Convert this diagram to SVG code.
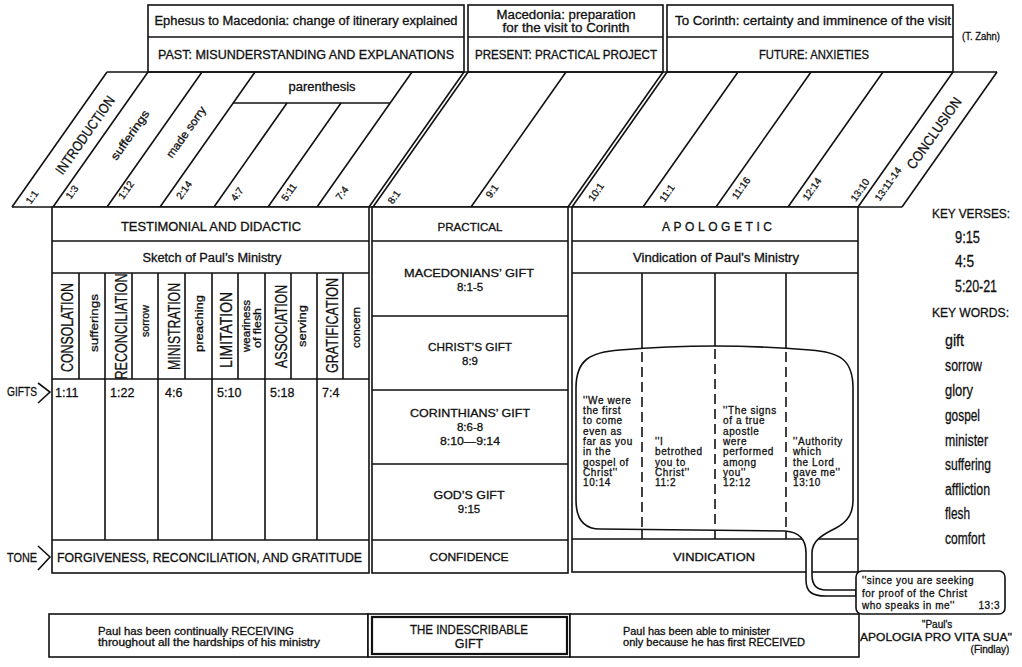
<svg xmlns="http://www.w3.org/2000/svg" width="1022" height="667" viewBox="0 0 1022 667">
<style>
.ln{stroke:#111;stroke-width:1.6;fill:none}
.bx{fill:#fff;stroke:#111;stroke-width:1.6}
.ds{stroke:#111;stroke-width:1.6;stroke-dasharray:10 5;fill:none}
text{font-family:"Liberation Sans",Arial,sans-serif;fill:#111;stroke:#111;stroke-width:0.3}
.c{text-anchor:middle}
.n{font-size:16px}
.k{font-size:13px}
.q{font-size:10px;letter-spacing:0.6px}
.v{font-size:10px;text-anchor:middle}
</style>
<rect width="1022" height="667" fill="#fff"/>

<g id="top-past">
<rect class="bx" x="148" y="5" width="316" height="67"/>
<line class="ln" x1="148" y1="37" x2="464" y2="37"/>
<text class="c" x="306" y="25" font-size="12" textLength="303" lengthAdjust="spacingAndGlyphs">Ephesus to Macedonia: change of itinerary explained</text>
<text class="c" x="306" y="59" font-size="12" textLength="296" lengthAdjust="spacingAndGlyphs">PAST: MISUNDERSTANDING AND EXPLANATIONS</text>
</g>
<g id="top-present">
<rect class="bx" x="468" y="5" width="195" height="67"/>
<line class="ln" x1="468" y1="37" x2="663" y2="37"/>
<text class="c" x="566" y="19" font-size="12" textLength="139" lengthAdjust="spacingAndGlyphs">Macedonia: preparation</text>
<text class="c" x="566" y="32" font-size="12" textLength="127" lengthAdjust="spacingAndGlyphs">for the visit to Corinth</text>
<text class="c" x="566" y="59" font-size="12" textLength="182" lengthAdjust="spacingAndGlyphs">PRESENT: PRACTICAL PROJECT</text>
</g>
<g id="top-future">
<rect class="bx" x="667" y="5" width="286" height="67"/>
<line class="ln" x1="667" y1="37" x2="953" y2="37"/>
<text class="c" x="813" y="25" font-size="12" textLength="276" lengthAdjust="spacingAndGlyphs">To Corinth: certainty and imminence of the visit</text>
<text class="c" x="814" y="59" font-size="12" textLength="110" lengthAdjust="spacingAndGlyphs">FUTURE: ANXIETIES</text>
</g>
<text id="zahn" x="962" y="40" font-size="10" textLength="38" lengthAdjust="spacingAndGlyphs">(T. Zahn)</text>

<g id="band">
<line class="ln" x1="107" y1="72" x2="997" y2="72"/>
<line class="ln" x1="12" y1="207" x2="902" y2="207"/>
<line class="ln" x1="12" y1="207" x2="107" y2="72"/>
<line class="ln" x1="53" y1="207" x2="148" y2="72"/>
<line class="ln" x1="107" y1="207" x2="202" y2="72"/>
<line class="ln" x1="160" y1="207" x2="255" y2="72"/>
<line class="ln" x1="214" y1="207" x2="287" y2="103"/>
<line class="ln" x1="268" y1="207" x2="341" y2="103"/>
<line class="ln" x1="317" y1="207" x2="412" y2="72"/>
<line class="ln" x1="233" y1="103" x2="390" y2="103"/>
<line class="ln" x1="369" y1="207" x2="464" y2="72"/>
<line class="ln" x1="373" y1="207" x2="468" y2="72"/>
<line class="ln" x1="471" y1="207" x2="566" y2="72"/>
<line class="ln" x1="568" y1="207" x2="663" y2="72"/>
<line class="ln" x1="572" y1="207" x2="667" y2="72"/>
<line class="ln" x1="643" y1="207" x2="738" y2="72"/>
<line class="ln" x1="716" y1="207" x2="811" y2="72"/>
<line class="ln" x1="788" y1="207" x2="883" y2="72"/>
<line class="ln" x1="858" y1="207" x2="953" y2="72"/>
<line class="ln" x1="902" y1="207" x2="997" y2="72"/>
<text class="c" x="322" y="91" font-size="12" textLength="67" lengthAdjust="spacingAndGlyphs">parenthesis</text>
<text class="c" font-size="14" dy="0.35em" textLength="92" lengthAdjust="spacingAndGlyphs" transform="translate(85,135) rotate(-54.9)">INTRODUCTION</text>
<text class="c" font-size="11.5" dy="0.35em" textLength="58" lengthAdjust="spacingAndGlyphs" transform="translate(130,135) rotate(-54.9)">sufferings</text>
<text class="c" font-size="11.5" dy="0.35em" textLength="60" lengthAdjust="spacingAndGlyphs" transform="translate(186,132) rotate(-54.9)">made sorry</text>
<text class="c" font-size="14" dy="0.35em" textLength="84" lengthAdjust="spacingAndGlyphs" transform="translate(934,133) rotate(-54.9)">CONCLUSION</text>
<text class="v" dy="0.35em" transform="translate(32,197) rotate(-54.9)">1:1</text>
<text class="v" dy="0.35em" transform="translate(72,192) rotate(-54.9)">1:3</text>
<text class="v" dy="0.35em" transform="translate(126,190) rotate(-54.9)">1:12</text>
<text class="v" dy="0.35em" transform="translate(184,190) rotate(-54.9)">2:14</text>
<text class="v" dy="0.35em" transform="translate(237,194) rotate(-54.9)">4:7</text>
<text class="v" dy="0.35em" transform="translate(289,192) rotate(-54.9)">5:11</text>
<text class="v" dy="0.35em" transform="translate(342,193) rotate(-54.9)">7:4</text>
<text class="v" dy="0.35em" transform="translate(394,197) rotate(-54.9)">8:1</text>
<text class="v" dy="0.35em" transform="translate(492,191) rotate(-54.9)">9:1</text>
<text class="v" dy="0.35em" transform="translate(596,192) rotate(-54.9)">10:1</text>
<text class="v" dy="0.35em" transform="translate(667,193) rotate(-54.9)">11:1</text>
<text class="v" dy="0.35em" transform="translate(741,188) rotate(-54.9)">11:16</text>
<text class="v" dy="0.35em" transform="translate(812,189) rotate(-54.9)">12:14</text>
<text class="v" dy="0.35em" transform="translate(860,190) rotate(-54.9)">13:10</text>
<text class="v" dy="0.35em" transform="translate(888,184) rotate(-54.9)">13:11-14</text>
</g>

<g id="testimonial">
<rect class="bx" x="52" y="207" width="317" height="366"/>
<line class="ln" x1="52" y1="241" x2="369" y2="241"/>
<line class="ln" x1="52" y1="273" x2="369" y2="273"/>
<line class="ln" x1="52" y1="379" x2="369" y2="379"/>
<line class="ln" x1="52" y1="540" x2="369" y2="540"/>
<path class="ln" d="M79 273V379M105 273V540M132 273V379M158 273V540M185 273V379M212 273V540M238 273V379M265 273V540M291 273V379M317 273V540M343 273V379"/>
<text class="c" x="211" y="231" font-size="12" textLength="180" lengthAdjust="spacingAndGlyphs">TESTIMONIAL AND DIDACTIC</text>
<text class="c" x="212" y="262" font-size="12" textLength="139" lengthAdjust="spacingAndGlyphs">Sketch of Paul’s Ministry</text>
<text class="c" font-size="16" textLength="89" lengthAdjust="spacingAndGlyphs" transform="translate(73,327.5) rotate(-90)">CONSOLATION</text>
<text class="c" font-size="11" textLength="58" lengthAdjust="spacingAndGlyphs" transform="translate(97.5,323) rotate(-90)">sufferings</text>
<text class="c" font-size="16" textLength="106" lengthAdjust="spacingAndGlyphs" transform="translate(127,326.5) rotate(-90)">RECONCILIATION</text>
<text class="c" font-size="11" textLength="32" lengthAdjust="spacingAndGlyphs" transform="translate(148.5,321) rotate(-90)">sorrow</text>
<text class="c" font-size="16" textLength="87" lengthAdjust="spacingAndGlyphs" transform="translate(180,326.5) rotate(-90)">MINISTRATION</text>
<text class="c" font-size="11" textLength="57" lengthAdjust="spacingAndGlyphs" transform="translate(202.5,323.5) rotate(-90)">preaching</text>
<text class="c" font-size="16" textLength="76" lengthAdjust="spacingAndGlyphs" transform="translate(232,330) rotate(-90)">LIMITATION</text>
<text class="c" font-size="10.5" textLength="52" lengthAdjust="spacingAndGlyphs" transform="translate(249.5,326) rotate(-90)">weariness</text>
<text class="c" font-size="10.5" textLength="40" lengthAdjust="spacingAndGlyphs" transform="translate(261,328) rotate(-90)">of flesh</text>
<text class="c" font-size="16" textLength="83" lengthAdjust="spacingAndGlyphs" transform="translate(287,326.5) rotate(-90)">ASSOCIATION</text>
<text class="c" font-size="11" textLength="42" lengthAdjust="spacingAndGlyphs" transform="translate(306,326) rotate(-90)">serving</text>
<text class="c" font-size="16" textLength="95" lengthAdjust="spacingAndGlyphs" transform="translate(338,325.5) rotate(-90)">GRATIFICATION</text>
<text class="c" font-size="11" textLength="41" lengthAdjust="spacingAndGlyphs" transform="translate(360,327.5) rotate(-90)">concern</text>
<text x="55" y="397" font-size="12.5">1:11</text>
<text x="110" y="397" font-size="12.5">1:22</text>
<text x="165" y="397" font-size="12.5">4:6</text>
<text x="217" y="397" font-size="12.5">5:10</text>
<text x="270" y="397" font-size="12.5">5:18</text>
<text x="322" y="397" font-size="12.5">7:4</text>
<text x="57" y="562" font-size="12" textLength="305" lengthAdjust="spacingAndGlyphs">FORGIVENESS, RECONCILIATION, AND GRATITUDE</text>
</g>

<g id="practical">
<rect class="bx" x="372" y="207" width="196" height="366"/>
<path class="ln" d="M372 241H568M372 316H568M372 390H568M372 464H568M372 540H568"/>
<g font-size="11.5" text-anchor="middle">
<text x="470" y="231" textLength="65" lengthAdjust="spacingAndGlyphs">PRACTICAL</text>
<text x="469" y="277" textLength="130" lengthAdjust="spacingAndGlyphs">MACEDONIANS’ GIFT</text>
<text x="470" y="291">8:1-5</text>
<text x="470" y="351" textLength="84" lengthAdjust="spacingAndGlyphs">CHRIST’S GIFT</text>
<text x="470" y="365">8:9</text>
<text x="470" y="417" textLength="120" lengthAdjust="spacingAndGlyphs">CORINTHIANS’ GIFT</text>
<text x="470" y="431">8:6-8</text>
<text x="470" y="445" textLength="60" lengthAdjust="spacingAndGlyphs">8:10—9:14</text>
<text x="469" y="499" textLength="71" lengthAdjust="spacingAndGlyphs">GOD’S GIFT</text>
<text x="469" y="513">9:15</text>
<text x="469" y="561" textLength="79" lengthAdjust="spacingAndGlyphs">CONFIDENCE</text>
</g>
</g>

<g id="apologetic">
<rect class="bx" x="572" y="207" width="286" height="365"/>
<path class="ln" d="M572 241H858M572 273H858M572 539H858M642 273V539M715 273V539M786 273V539"/>
<text class="c" x="717" y="231" font-size="12" textLength="110" lengthAdjust="spacing">APOLOGETIC</text>
<text class="c" x="716" y="262" font-size="12" textLength="166" lengthAdjust="spacingAndGlyphs">Vindication of Paul’s Ministry</text>
<text class="c" x="714" y="561" font-size="11.5" textLength="82" lengthAdjust="spacingAndGlyphs">VINDICATION</text>
</g>

<g id="bubble">
<path class="bx" d="M856 590L826 590C816 590 812 585 812 575L812 553C812 540 824 534 836 528C849 521 853 512 853 500L853 388C853 360 840 352 810 350C750 345 680 345 620 350C590 352 576 360 576 388L576 500C576 520 585 529 600 529L785 531C800 532 806 540 806 553L806 580C806 592 812 596 826 596L856 596Z"/>
<path class="ds" d="M642 352V528M715 349V529M786 352V530"/>
<g class="q">
<text x="583" y="403.5">''We were</text>
<text x="583" y="413.9">the first</text>
<text x="583" y="424.2">to come</text>
<text x="583" y="434.6">even as</text>
<text x="583" y="444.9">far as you</text>
<text x="583" y="455.3">in the</text>
<text x="583" y="465.6">gospel of</text>
<text x="583" y="476">Christ''</text>
<text x="583" y="486.3">10:14</text>
<text x="655" y="444.9">''I</text>
<text x="655" y="455.3">betrothed</text>
<text x="655" y="465.6">you to</text>
<text x="655" y="476">Christ''</text>
<text x="655" y="486.3">11:2</text>
<text x="723" y="413.9">''The signs</text>
<text x="723" y="424.2">of a true</text>
<text x="723" y="434.6">apostle</text>
<text x="723" y="444.9">were</text>
<text x="723" y="455.3">performed</text>
<text x="723" y="465.6">among</text>
<text x="723" y="476">you''</text>
<text x="723" y="486.3">12:12</text>
<text x="793" y="444.9">''Authority</text>
<text x="793" y="455.3">which</text>
<text x="793" y="465.6">the Lord</text>
<text x="793" y="476">gave me''</text>
<text x="793" y="486.3">13:10</text>
</g>
</g>

<g id="callout">
<rect class="bx" x="856" y="571" width="149" height="43" rx="6"/>
<g font-size="10" letter-spacing="0.5">
<text x="862" y="584">''since you are seeking</text>
<text x="862" y="596.5">for proof of the Christ</text>
<text x="862" y="608.5">who speaks in me''</text>
<text x="1000" y="608.5" text-anchor="end">13:3</text>
</g>
</g>

<g id="key-verses" class="n">
<text class="k" x="932" y="218" textLength="78" lengthAdjust="spacingAndGlyphs">KEY VERSES:</text>
<text x="955" y="243" textLength="25" lengthAdjust="spacingAndGlyphs">9:15</text>
<text x="955" y="267" textLength="19" lengthAdjust="spacingAndGlyphs">4:5</text>
<text x="955" y="292" textLength="42" lengthAdjust="spacingAndGlyphs">5:20-21</text>
<text class="k" x="932" y="317" textLength="77" lengthAdjust="spacingAndGlyphs">KEY WORDS:</text>
<text x="945" y="346" textLength="19" lengthAdjust="spacingAndGlyphs">gift</text>
<text x="945" y="371" textLength="37" lengthAdjust="spacingAndGlyphs">sorrow</text>
<text x="945" y="396" textLength="28" lengthAdjust="spacingAndGlyphs">glory</text>
<text x="945" y="421" textLength="35" lengthAdjust="spacingAndGlyphs">gospel</text>
<text x="945" y="446" textLength="43" lengthAdjust="spacingAndGlyphs">minister</text>
<text x="945" y="470" textLength="46" lengthAdjust="spacingAndGlyphs">suffering</text>
<text x="945" y="495" textLength="45" lengthAdjust="spacingAndGlyphs">affliction</text>
<text x="945" y="519" textLength="25" lengthAdjust="spacingAndGlyphs">flesh</text>
<text x="945" y="544" textLength="40" lengthAdjust="spacingAndGlyphs">comfort</text>
</g>

<g id="labels">
<text x="7" y="396" font-size="12.5" textLength="30" lengthAdjust="spacingAndGlyphs">GIFTS</text>
<text x="7" y="562" font-size="12.5" textLength="30" lengthAdjust="spacingAndGlyphs">TONE</text>
</g>

<g id="bottom-receiving">
<rect class="bx" x="49" y="614" width="319" height="43"/>
<text x="98" y="635" font-size="10" textLength="196" lengthAdjust="spacingAndGlyphs">Paul has been continually RECEIVING</text>
<text x="98" y="646" font-size="10" textLength="222" lengthAdjust="spacingAndGlyphs">throughout all the hardships of his ministry</text>
</g>
<g id="bottom-gift">
<rect class="bx" x="368" y="614" width="202" height="43"/>
<rect x="372" y="617" width="195" height="37" fill="none" stroke="#111" stroke-width="2.2"/>
<text class="c" x="469" y="634" font-size="12.5" textLength="118" lengthAdjust="spacingAndGlyphs">THE INDESCRIBABLE</text>
<text class="c" x="469" y="648" font-size="12.5">GIFT</text>
</g>
<g id="bottom-minister">
<rect class="bx" x="570" y="614" width="289" height="43"/>
<text x="623" y="635" font-size="10" textLength="147" lengthAdjust="spacingAndGlyphs">Paul has been able to minister</text>
<text x="623" y="646" font-size="10" textLength="182" lengthAdjust="spacingAndGlyphs">only because he has first RECEIVED</text>
</g>
<g id="apologia" class="c" font-size="10">
<text x="937" y="628">''Paul's</text>
<text x="936" y="641" textLength="152" lengthAdjust="spacingAndGlyphs">APOLOGIA PRO VITA SUA''</text>
<text x="990" y="653">(Findlay)</text>
</g>

<g id="connectors">
<polyline class="ln" points="38,383 50,392 38,403"/>
<polyline class="ln" points="38,546 50,557 38,570"/>
</g>
</svg>
